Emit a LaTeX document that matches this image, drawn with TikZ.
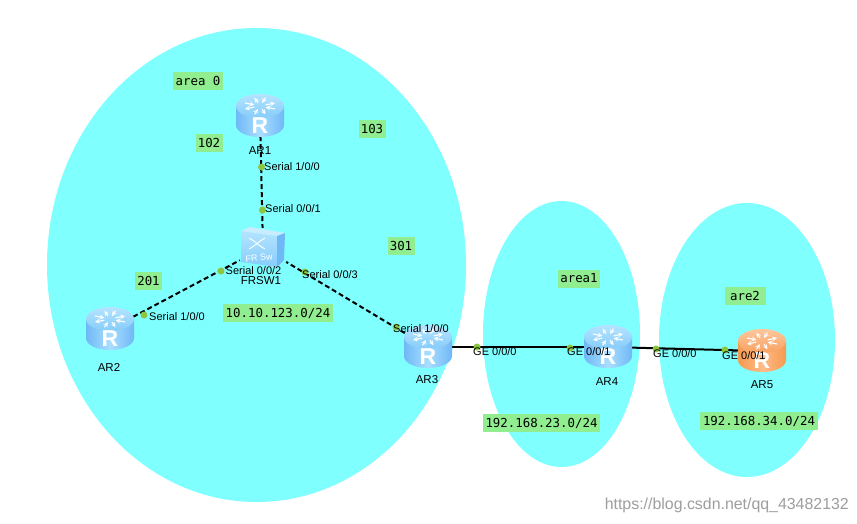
\documentclass[tikz,border=0pt]{standalone}
\usepackage{fontspec}
\usepackage{xcolor}
\usetikzlibrary{shapes.geometric}
\setmainfont{Liberation Sans}
\newfontfamily\netfont{DejaVu Sans Mono}
\definecolor{areacyan}{HTML}{80FFFF}
\definecolor{netgreen}{HTML}{90EE90}
\definecolor{portgreen}{HTML}{8CC63F}
\definecolor{blueedge}{HTML}{6FB8F6}
\definecolor{bluemid}{HTML}{A9DEFF}
\definecolor{bluetop}{HTML}{B4E4FF}
\definecolor{bluelow}{HTML}{86CCFA}
\definecolor{orangeedge}{HTML}{F59A50}
\definecolor{orangemid}{HTML}{FFBB88}
\definecolor{orangetop}{HTML}{FFC69C}
\definecolor{orangelow}{HTML}{F8A262}
\tikzset{
  area/.style={ellipse, fill=areacyan, inner sep=0pt},
  netlabel/.style={fill=netgreen, inner sep=0pt, minimum height=18pt, font=\netfont\fontsize{12.4}{14}\selectfont},
  devname/.style={font=\fontsize{11.5}{13}\selectfont, inner sep=0pt},
  portlabel/.style={anchor=west, font=\fontsize{11}{12}\selectfont, inner sep=0pt},
  portdot/.style={circle, fill=portgreen, inner sep=0pt, minimum size=7pt},
  devbox/.style={inner sep=0pt, minimum width=46pt, minimum height=40pt},
  serial/.style={black, line width=2pt, dash pattern=on 5pt off 3pt},
  ether/.style={black, line width=2pt},
  pics/router/.style n args={4}{code={
    \shade[left color=#1, right color=#1, middle color=#2]
      (-24,-10) -- (-24,9) .. controls (-24,16) and (-13,21) .. (0,21)
      .. controls (13,21) and (24,16) .. (24,9) -- (24,-10) -- cycle;
    \shade[top color=#3, bottom color=#4] (0,-10) ellipse [x radius=24pt, y radius=12pt];
    \foreach \a in {45,135,225,315} {
      \draw[white, line width=1.1pt, -stealth, shift={(0,-10)}, yscale=.55]
        (\a-25:6pt) -- (\a-25:16pt);
      \draw[white, line width=1.1pt, stealth-, shift={(0,-10)}, yscale=.55]
        (\a+25:6pt) -- (\a+25:16pt);
    }
    \node[white, inner sep=0pt, font=\bfseries\fontsize{23}{23}\selectfont] (-letter) at (0,10) {R};
  }},
}
\begin{document}
\begin{tikzpicture}[x=1pt, y=-1pt]
\useasboundingbox[fill=white] (0,0) rectangle (857,523);

% areas
\node[area, minimum width=419pt, minimum height=474pt] (area0) at (256.5,265) {};
\node[area, minimum width=157pt, minimum height=266pt] (area1) at (561.5,334) {};
\node[area, minimum width=176pt, minimum height=274pt] (area2) at (747,340) {};

\node[devbox] (ar1) at (260,116) {};
\node[devbox] (ar2) at (110,329) {};
\node[devbox] (ar3) at (428,347) {};
\node[devbox] (ar4) at (608,347) {};
\node[devbox] (ar5) at (762,351) {};
\node[devbox] (frsw) at (263,248) {};

% links
\draw[serial] (ar1) -- (frsw);
\draw[serial] (ar2) -- (frsw);
\draw[serial] (ar3) -- (frsw);
\draw[ether] (ar3) -- (ar4);
\draw[ether] (ar4) -- (ar5);

\pic (ar1icon) at (ar1) {router={blueedge}{bluemid}{bluetop}{bluelow}};
\pic (ar2icon) at (ar2) {router={blueedge}{bluemid}{bluetop}{bluelow}};
\pic (ar3icon) at (ar3) {router={blueedge}{bluemid}{bluetop}{bluelow}};
\pic (ar4icon) at (ar4) {router={blueedge}{bluemid}{bluetop}{bluelow}};
\pic (ar5icon) at (ar5) {router={orangeedge}{orangemid}{orangetop}{orangelow}};

% switch
\shade[top color=bluetop, bottom color=bluelow]
  (241,231) -- (277,236) -- (277,267) -- (241,262) -- cycle;
\fill[bluetop!70!white] (241,231) -- (250,227) -- (285,233) -- (277,236) -- cycle;
\fill[blueedge] (277,236) -- (285,233) -- (284,260) -- (277,267) -- cycle;
\draw[white, line width=.9pt] (249,238) .. controls (255,241) and (259,246) .. (265,249)
  (249,249) .. controls (255,246) and (259,241) .. (265,238);
\node[white, inner sep=0pt, rotate=6, font=\fontsize{9}{10}\selectfont] (frswtext) at (259,258) {FR Sw};

% ports
\node[portdot] (p1) at (261.5,167) {};
\node[portdot] (p2) at (262.5,210) {};
\node[portdot] (p3) at (221,271) {};
\node[portdot] (p4) at (144,315) {};
\node[portdot] (p5) at (305,272) {};
\node[portdot] (p6) at (396,327) {};
\node[portdot] (p7) at (477,347) {};
\node[portdot] (p8) at (570,348) {};
\node[portdot] (p9) at (656,349) {};
\node[portdot] (p10) at (725,350) {};

\node[portlabel] (l1) at (264,167) {Serial 1/0/0};
\node[portlabel] (l2) at (265,209) {Serial 0/0/1};
\node[portlabel] (l3) at (225.5,271) {Serial 0/0/2};
\node[portlabel] (l4) at (149,317) {Serial 1/0/0};
\node[portlabel] (l5) at (302,275) {Serial 0/0/3};
\node[portlabel] (l6) at (393,329) {Serial 1/0/0};
\node[portlabel] (l7) at (473,352) {GE 0/0/0};
\node[portlabel] (l8) at (567,352) {GE 0/0/1};
\node[portlabel] (l9) at (653,354) {GE 0/0/0};
\node[portlabel] (l10) at (722,356) {GE 0/0/1};

\node[devname] (n1) at (260,151) {AR1};
\node[devname] (n2) at (109,367) {AR2};
\node[devname] (n3) at (427,380) {AR3};
\node[devname] (n4) at (607,382) {AR4};
\node[devname] (n5) at (762,385) {AR5};
\node[devname] (n6) at (261,281) {FRSW1};

% subnet and dlci labels
\node[netlabel, minimum width=50pt] (t1) at (198,81) {area 0};
\node[netlabel, minimum width=27pt] (t2) at (209,143) {102};
\node[netlabel, minimum width=27pt] (t3) at (372,129) {103};
\node[netlabel, minimum width=27pt] (t4) at (401,245.5) {301};
\node[netlabel, minimum width=27pt] (t5) at (148.5,280.5) {201};
\node[netlabel, minimum width=110pt] (t6) at (278,313) {10.10.123.0/24};
\node[netlabel, minimum width=42pt] (t7) at (579,278.5) {area1};
\node[netlabel, minimum width=41pt] (t8) at (745,295.5) {are2};
\node[netlabel, minimum width=117pt] (t9) at (541.5,423) {192.168.23.0/24};
\node[netlabel, minimum width=118pt] (t10) at (759,421) {192.168.34.0/24};

\node[anchor=east, inner sep=0pt, text=black!38, font=\fontsize{15.9}{18}\selectfont] (mark) at (849,505) {https://blog.csdn.net/qq\_43482132};
\end{tikzpicture}
\end{document}
